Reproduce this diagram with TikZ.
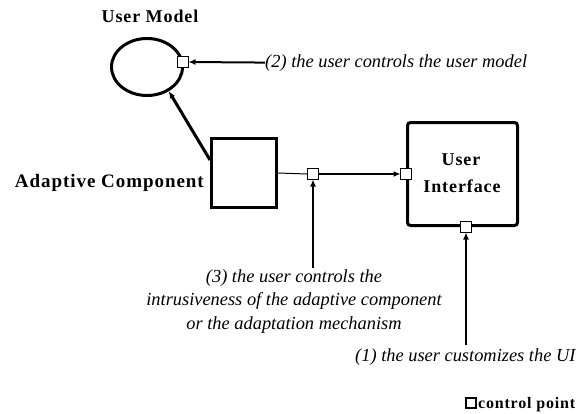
\documentclass[tikz,border=0pt]{standalone}
\usepackage{fontspec}
\setmainfont{Liberation Serif}
\newfontface\lblbold[LetterSpace=5]{Liberation Serif Bold}
\usetikzlibrary{shapes.geometric,arrows.meta}
\begin{document}
\begin{tikzpicture}[x=1pt,y=-1pt,
  heavy/.style={draw, line width=3pt},
  cpt/.style={draw, fill=white, line width=1.1pt, minimum size=11pt, inner sep=0pt, outer sep=0pt},
  tip/.style={-{Latex[length=7pt,width=6pt]}},
  boldlbl/.style={font=\lblbold\fontsize{18}{20}\selectfont, inner sep=0pt},
  itlbl/.style={font=\itshape\fontsize{18.4}{23.5}\selectfont, inner sep=0pt}]
\useasboundingbox[fill=white] (0,0) rectangle (584,413);

% shapes
\node[heavy, ellipse, minimum width=71pt, minimum height=57pt, inner sep=0pt] (um) at (147,67) {};
\node[heavy, rectangle, minimum width=65pt, minimum height=69pt, inner sep=0pt] (ac) at (244,173) {};
\node[heavy, rectangle, rounded corners=3pt, minimum width=110pt, minimum height=103pt, inner sep=0pt] (ui) at (462.5,174) {};

% labels
\node[boldlbl, anchor=base] (umT) at (150,22) {User Model};
\node[boldlbl, font=\lblbold\fontsize{19}{20}\selectfont, anchor=base east] (acT) at (204,187) {Adaptive Component};
\node[boldlbl, anchor=base] (uiT1) at (461,165) {User};
\node[boldlbl, anchor=base] (uiT2) at (462,192) {Interface};

\node[itlbl, anchor=base west] (t2) at (265,67) {(2) the user controls the user model};
\node[itlbl, anchor=base west] (t1) at (355,361) {(1) the user customizes the UI};
\node[itlbl, align=center, anchor=base] (t3) at (294,329) {(3) the user controls the\\intrusiveness of the adaptive component\\or the adaptation mechanism};

% control points
\node[cpt] (cp2) at (183,62) {};
\node[cpt] (cp3) at (313,174) {};
\node[cpt] (cpL) at (ui.west) {};
\node[cpt] (cpB) at ([xshift=3.5pt]ui.south) {};

% connectors
\draw[tip, line width=3pt] ([yshift=13pt]ac.west) -- (um.-48);
\draw[tip, line width=2pt] (t2.west) -- (cp2.east);
\draw[line width=1pt] (ac.east) -- (cp3.west);
\draw[tip, line width=1.3pt] (cp3.east) -- (cpL.west);
\coordinate (a3) at (313,268);
\draw[tip, line width=2.2pt] (a3) -- (cp3.south);
\coordinate (a1) at (466,345);
\draw[tip, line width=2.2pt] (a1) -- (cpB.south);

% legend
\node[cpt, minimum size=10pt] (leg) at (471,403) {};
\node[boldlbl, font=\lblbold\fontsize{16}{18}\selectfont, anchor=base west] (legT) at (478,408) {control point};
\end{tikzpicture}
\end{document}
